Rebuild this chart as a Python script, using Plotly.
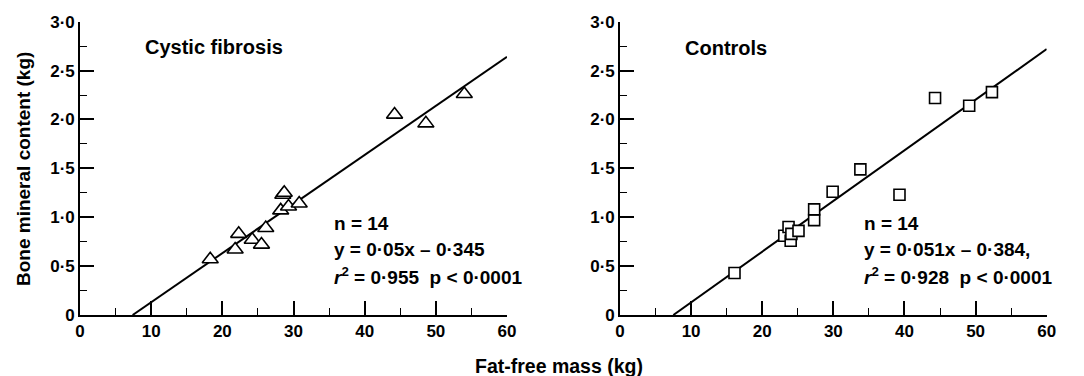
import plotly.graph_objects as go

# ---- data ----
cf_ffm = [18.3, 21.8, 22.3, 24.2, 25.5, 26.1, 28.2, 28.5, 28.7, 29.3, 30.8, 44.2, 48.6, 54.0]
cf_bmc = [0.57, 0.67, 0.83, 0.77, 0.72, 0.89, 1.07, 1.23, 1.25, 1.11, 1.14, 2.05, 1.96, 2.26]
ctl_ffm = [16.1, 23.1, 23.7, 24.0, 24.1, 25.1, 27.3, 27.3, 29.9, 33.8, 39.3, 44.3, 49.1, 52.3]
ctl_bmc = [0.43, 0.81, 0.90, 0.76, 0.83, 0.86, 0.97, 1.08, 1.26, 1.49, 1.23, 2.22, 2.14, 2.28]
cf_fit_x = [7.4, 60]
cf_fit_y = [0.0, 2.64]
ctl_fit_x = [7.5, 60]
ctl_fit_y = [0.0, 2.72]

x_ticks = [0, 10, 20, 30, 40, 50, 60]
x_ticktext = ["0", "10", "20", "30", "40", "50", "60"]
y_ticks = [0, 0.5, 1.0, 1.5, 2.0, 2.5, 3.0]
y_ticktext = ["0", "0·5", "1·0", "1·5", "2·0", "2·5", "3·0"]

cf_label = "Cystic fibrosis"
ctl_label = "Controls"
cf_stats = ["n = 14", "y = 0·05x – 0·345", "<i>r</i><sup>2</sup> = 0·955\u00a0\u00a0p < 0·0001"]
ctl_stats = ["n = 14", "y = 0·051x – 0·384,", "<i>r</i><sup>2</sup> = 0·928\u00a0\u00a0p < 0·0001"]

FONT = "Liberation Sans, Arial, sans-serif"
W, H = 1084, 376

fig = go.Figure()

fig.add_trace(go.Scatter(x=cf_fit_x, y=cf_fit_y, mode="lines",
                         line=dict(color="black", width=2), xaxis="x", yaxis="y",
                         showlegend=False, hoverinfo="skip"))
fig.add_trace(go.Scatter(x=cf_ffm, y=cf_bmc, mode="markers",
                         marker=dict(symbol="triangle-up", size=14, color="white",
                                     line=dict(color="black", width=1.6)),
                         xaxis="x", yaxis="y", showlegend=False, cliponaxis=False))
fig.add_trace(go.Scatter(x=ctl_fit_x, y=ctl_fit_y, mode="lines",
                         line=dict(color="black", width=2), xaxis="x2", yaxis="y2",
                         showlegend=False, hoverinfo="skip"))
fig.add_trace(go.Scatter(x=ctl_ffm, y=ctl_bmc, mode="markers",
                         marker=dict(symbol="square", size=11, color="white",
                                     line=dict(color="black", width=1.6)),
                         xaxis="x2", yaxis="y2", showlegend=False, cliponaxis=False))

tickfont = dict(family=FONT, size=17, color="black", weight="bold")

def xaxis(domain, anchor):
    return dict(domain=domain, anchor=anchor, range=[0, 60], showline=True,
                linecolor="black", linewidth=1.6, showgrid=False, zeroline=False,
                automargin=False,
                ticks="inside", ticklen=14, tickwidth=1.6, tickcolor="black",
                tickvals=x_ticks, ticktext=x_ticktext, tickfont=tickfont,
                minor=dict(dtick=5, tick0=0, ticks="inside", ticklen=7,
                           tickwidth=1.4, tickcolor="black", showgrid=False))

def yaxis(domain, anchor):
    return dict(domain=domain, anchor=anchor, range=[0, 3.0], showline=True,
                linecolor="black", linewidth=1.6, showgrid=False, zeroline=False,
                automargin=False,
                ticks="inside", ticklen=14, tickwidth=1.6, tickcolor="black",
                tickvals=y_ticks, ticktext=y_ticktext, tickfont=tickfont,
                minor=dict(dtick=0.25, tick0=0, ticks="inside", ticklen=7,
                           tickwidth=1.4, tickcolor="black", showgrid=False))

ydom = [61 / H, 354.3 / H]
fig.update_layout(
    width=W, height=H,
    margin=dict(l=0, r=0, t=0, b=0, pad=0, autoexpand=False),
    paper_bgcolor="white", plot_bgcolor="white",
    showlegend=False,
    xaxis=xaxis([80 / W, 507 / W], "y"),
    yaxis=yaxis(ydom, "x"),
    xaxis2=xaxis([620 / W, 1046.7 / W], "y2"),
    yaxis2=yaxis(ydom, "x2"),
)

annfont = dict(family=FONT, size=19, color="black", weight="bold")
labfont = dict(family=FONT, size=20, color="black", weight="bold")
anns = []
anns.append(dict(x=8.85, y=2.74, xref="x", yref="y", text=cf_label, showarrow=False,
                 xanchor="left", yanchor="middle", font=labfont))
anns.append(dict(x=8.8, y=2.73, xref="x2", yref="y2", text=ctl_label, showarrow=False,
                 xanchor="left", yanchor="middle", font=labfont))
stat_y = [0.94, 0.675, 0.40]
for t, yy in zip(cf_stats, stat_y):
    anns.append(dict(x=35.4, y=yy, xref="x", yref="y", text=t, showarrow=False,
                     xanchor="left", yanchor="middle", font=annfont))
for t, yy in zip(ctl_stats, stat_y):
    anns.append(dict(x=34.0, y=yy, xref="x2", yref="y2", text=t, showarrow=False,
                     xanchor="left", yanchor="middle", font=annfont))
anns.append(dict(x=23 / W, y=(H - 169) / H, xref="paper", yref="paper",
                 text="Bone mineral content (kg)", textangle=-90, showarrow=False,
                 xanchor="center", yanchor="middle",
                 font=dict(family=FONT, size=19, color="black", weight="bold")))
anns.append(dict(x=559 / W, y=(H - 366) / H, xref="paper", yref="paper",
                 text="Fat-free mass (kg)", showarrow=False,
                 xanchor="center", yanchor="middle",
                 font=dict(family=FONT, size=19.5, color="black", weight="bold")))
fig.update_layout(annotations=anns)

fig.write_html("out.html",
               config={"displayModeBar": False},
               post_script="document.body.style.margin='0';document.body.style.overflow='hidden';")
